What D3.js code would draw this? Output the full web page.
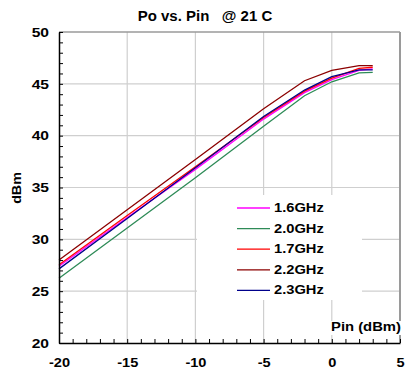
<!DOCTYPE html>
<html><head><meta charset="utf-8">
<script src="https://cdn.jsdelivr.net/npm/d3@7"></script>
<style>
body{margin:0;background:#fff;}
text{font-family:"Liberation Sans",Arial,sans-serif;font-weight:bold;fill:#000;}
</style></head>
<body><svg id="c" width="409" height="379"></svg>
<script>
const pinValues = [-20, -15, -10, -5, -2, 0, 2, 3];
const seriesNames = ["1.6GHz", "2.0GHz", "1.7GHz", "2.2GHz", "2.3GHz"];
const seriesColors = ["#ff00ff", "#2e8b57", "#ff0000", "#8b0000", "#00008b"];
const po16 = [27.4, 32.1, 36.75, 41.6, 44.15, 45.4, 46.3, 46.45];
const po20 = [26.25, 31.1, 35.95, 40.9, 43.85, 45.2, 46.05, 46.1];
const po17 = [27.55, 32.3, 37.0, 41.75, 44.3, 45.55, 46.5, 46.6];
const po22 = [28.0, 32.85, 37.7, 42.6, 45.3, 46.3, 46.75, 46.75];
const po23 = [27.15, 32.0, 36.9, 41.85, 44.4, 45.7, 46.35, 46.35];
const seriesValues = [po16, po20, po17, po22, po23];
const xTickValues = [-20, -15, -10, -5, 0, 5];
const yTickValues = [20, 25, 30, 35, 40, 45, 50];
const titleText = "Po vs. Pin   @ 21 C";
const xLabel = "Pin (dBm)";
const yLabel = "dBm";

const svg = d3.select("#c");
const L = 59, R = 400, T = 32, B = 343;
const x = d3.scaleLinear().domain([-20, 5]).range([L, R]);
const y = d3.scaleLinear().domain([20, 50]).range([B, T]);
const FONT = '"Liberation Sans",Arial,sans-serif';

function stretch(sel, f) {
  sel.each(function () {
    const w = this.getComputedTextLength();
    d3.select(this).attr("textLength", w * f).attr("lengthAdjust", "spacingAndGlyphs");
  });
}

// gridlines
const grid = svg.append("g");
grid.selectAll("line.v").data(xTickValues.slice(1, -1)).join("line")
  .attr("x1", d => x(d)).attr("x2", d => x(d)).attr("y1", T).attr("y2", B)
  .attr("stroke", "#cfcfcf").attr("stroke-width", 1.2);
grid.selectAll("line.h").data(yTickValues.slice(1, -1)).join("line")
  .attr("y1", d => y(d)).attr("y2", d => y(d)).attr("x1", L).attr("x2", R)
  .attr("stroke", "#cfcfcf").attr("stroke-width", 1.2);

// frame top/right gray
svg.append("line").attr("x1", L).attr("x2", R).attr("y1", T).attr("y2", T).attr("stroke", "#9a9a9a").attr("stroke-width", 1.5);
svg.append("line").attr("x1", R).attr("x2", R).attr("y1", T).attr("y2", B).attr("stroke", "#9a9a9a").attr("stroke-width", 2);

// legend box background (covers gridlines)
svg.append("rect").attr("x", 197).attr("y", 195).attr("width", 165).attr("height", 105).attr("fill", "#fff");
// x label background
svg.append("rect").attr("x", 330).attr("y", 321).attr("width", 74).attr("height", 14).attr("fill", "#fff");

// lines
const line = d3.line().x((d, i) => x(pinValues[i])).y(d => y(d));
svg.append("g").selectAll("path").data(seriesValues).join("path")
  .attr("d", d => line(d)).attr("fill", "none")
  .attr("stroke", (d, i) => seriesColors[i]).attr("stroke-width", 1.3);

// minor ticks (inside)
const minorX = d3.range(-20, 6, 1);
const minorY = d3.range(20, 51, 1);
const xAx = d3.axisBottom(x).tickValues(minorX).tickSizeInner(-4).tickSizeOuter(0).tickFormat("");
const gx = svg.append("g").attr("transform", `translate(0,${B})`).call(xAx);
gx.selectAll("line").attr("stroke", "#000");
gx.select(".domain").attr("stroke", "#000").attr("stroke-width", 1.5);
const yAx = d3.axisLeft(y).tickValues(minorY).tickSizeInner(-4).tickSizeOuter(0).tickFormat("");
const gy = svg.append("g").attr("transform", `translate(${L},0)`).call(yAx);
gy.selectAll("line").attr("stroke", "#000");
gy.select(".domain").attr("stroke", "#000").attr("stroke-width", 1.5);

// tick labels
const fmt = d => String(d);
const xl = svg.append("g").attr("transform", `translate(0,${B})`)
  .call(d3.axisBottom(x).tickValues(xTickValues).tickSize(0).tickPadding(18).tickFormat(fmt));
xl.select(".domain").remove();
xl.attr("font-family", FONT).attr("font-size", 13);
xl.selectAll("text").attr("font-weight", "bold").attr("dy", "0.45em").call(stretch, 1.12);
const yl = svg.append("g").attr("transform", `translate(${L},0)`)
  .call(d3.axisLeft(y).tickValues(yTickValues).tickSize(0).tickPadding(10).tickFormat(fmt));
yl.select(".domain").remove();
yl.attr("font-family", FONT).attr("font-size", 13);
yl.selectAll("text").attr("font-weight", "bold").call(stretch, 1.2);

// title
svg.append("text").attr("x", 205).attr("y", 21).attr("text-anchor", "middle")
  .attr("font-size", 14).style("white-space", "pre").text(titleText).call(stretch, 1.07);
// axis labels
svg.append("text").attr("x", 331).attr("y", 331).attr("font-size", 13).text(xLabel).call(stretch, 1.14);
svg.append("text").attr("transform", "translate(21,188) rotate(-90)").attr("text-anchor", "middle")
  .attr("font-size", 13).text(yLabel).call(stretch, 1.1);

// legend
const lg = svg.append("g").selectAll("g").data(seriesNames).join("g")
  .attr("transform", (d, i) => `translate(0,${208 + i * 20.6})`);
lg.append("line").attr("x1", 237).attr("x2", 270).attr("y1", 0).attr("y2", 0)
  .attr("stroke", (d, i) => seriesColors[i]).attr("stroke-width", 1.3);
lg.append("text").attr("x", 274).attr("y", 4).attr("font-size", 13).text(d => d).call(stretch, 1.13);
</script></body></html>
